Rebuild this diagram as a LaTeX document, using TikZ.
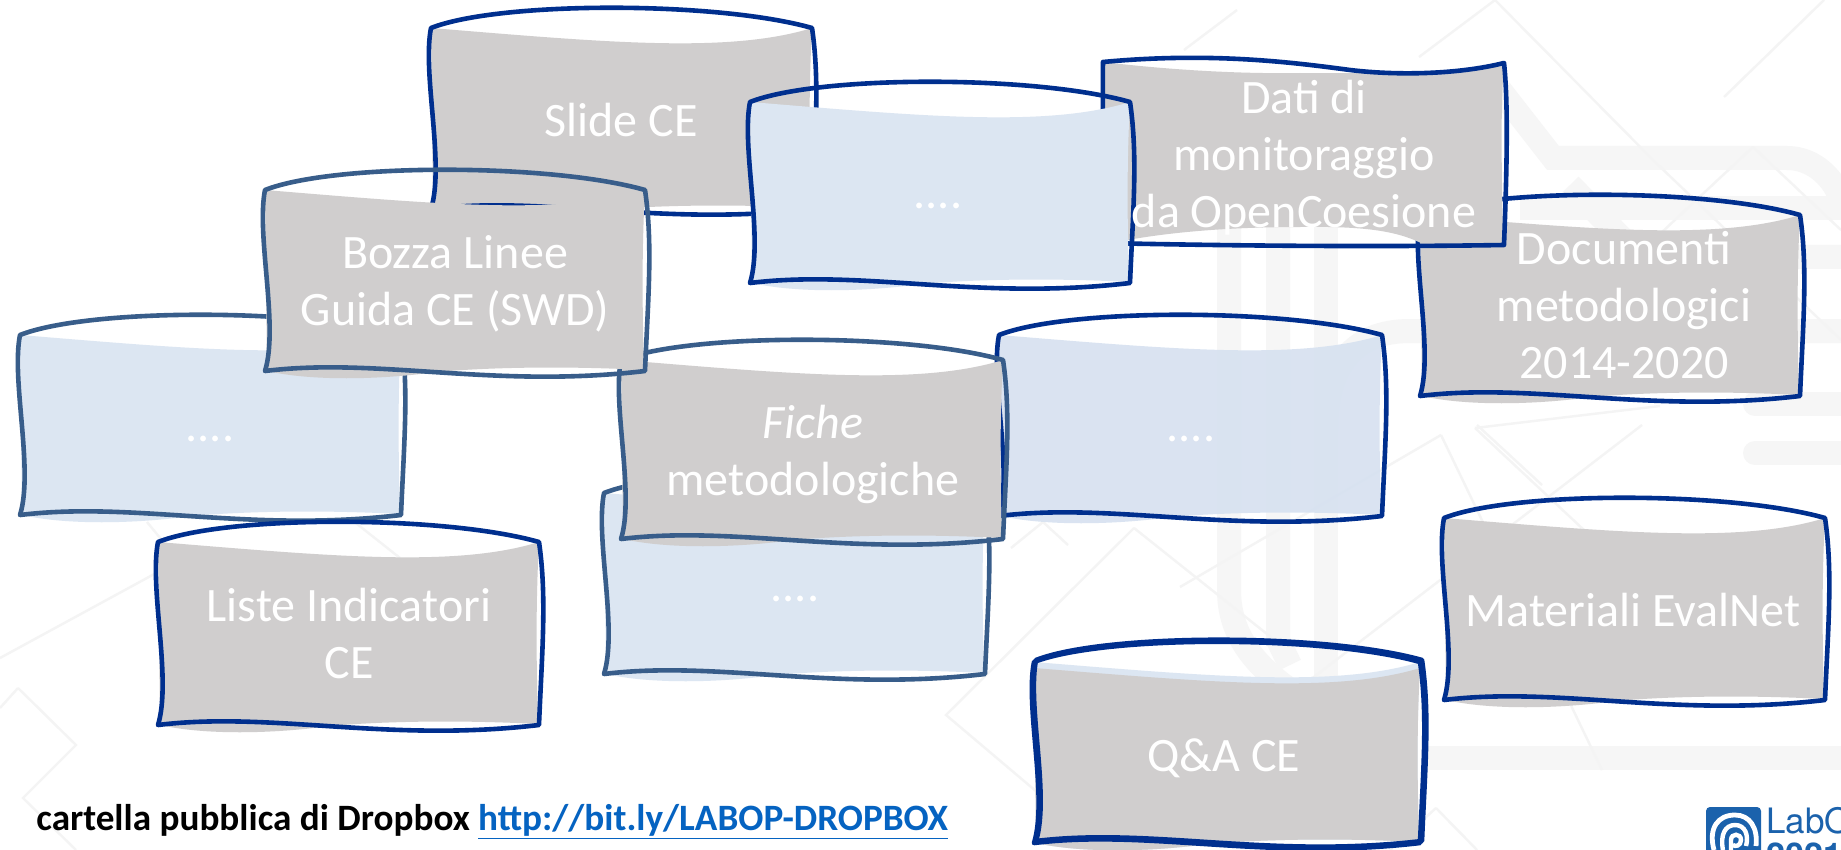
\documentclass[tikz,border=0pt]{standalone}
\usepackage{fontspec}
\setmainfont{Carlito}
\newfontfamily\logofont{TeX Gyre Heros}
\definecolor{navyline}{HTML}{002F8E}
\definecolor{steelline}{HTML}{385D8A}
\definecolor{grayfillc}{HTML}{D0CECE}
\definecolor{bluefillc}{HTML}{DCE6F2}
\definecolor{bluefilld}{HTML}{D6E1F0}
\definecolor{wmband}{HTML}{F6F6F6}
\definecolor{wmline}{HTML}{F4F4F4}
\definecolor{linkblue}{HTML}{0563C1}
\definecolor{logoblue}{HTML}{1B62AC}
\tikzset{
  grayfill/.style={fill=grayfillc},
  bluefill/.style={fill=bluefillc},
  bluefillt/.style={fill=bluefilld,fill opacity=.9},
  navyedge/.style={draw=navyline,line width=2.3pt,line join=round},
  steeledge/.style={draw=steelline,line width=2.3pt,line join=round},
  label/.style={text=white,inner sep=0pt,align=center,font=\fontsize{24}{28.5}\selectfont},
  band/.style={draw=wmband,line width=12pt},
  wm/.style={draw=wmline,line width=1.2pt},
}
\newcommand{\cylfillpath}[3]{% style, w, h
  \def\w{#2}\def\h{#3}
  \path[#1] (0,0) .. controls (0.45*\w,14) and (0.78*\w,26) .. (\w,0)
    .. controls (\w-3,0.3*\h) and (\w-3,0.6*\h) .. (\w-1,\h-1)
    .. controls (0.8*\w,\h-5) and (0.6*\w,\h-4) .. (0.45*\w,\h+1)
    .. controls (0.3*\w,\h+9) and (0.12*\w,\h+10) .. (2,\h) -- cycle;}
\newcommand{\cyledge}[3]{% style, w, h
  \def\w{#2}\def\h{#3}
  \path[#1] (0,0) .. controls (0.18*\w,-27) and (0.75*\w,-27) .. (\w,0)
    .. controls (\w+8,0.3*\h) and (\w+3,0.6*\h) .. (\w,\h)
    .. controls (0.6*\w,\h+18) and (0.3*\w,\h-14) .. (0,\h)
    .. controls (14,0.75*\h) and (-9,0.25*\h) .. cycle;}
\newcommand{\cylbox}[6]{% x, y, w, h, fill style, edge style
  \begin{scope}[shift={(#1,#2)}]
    \cylfillpath{#5}{#3}{#4}
    \cyledge{#6}{#3}{#4}
  \end{scope}}
\begin{document}
\begin{tikzpicture}[x=0.5pt,y=-0.5pt]
\useasboundingbox (0,0) rectangle (1841,850);
\clip (0,0) rectangle (1841,850);
\fill[white] (0,0) rectangle (1841,850);
% watermark bands
\draw[band] (1229,200) -- (1229,590) .. controls (1229,635) and (1255,665) .. (1290,690);
\draw[band] (1278,200) -- (1278,640) -- (1290,665);
\draw[band] (1326,200) -- (1326,680);
\draw[band] (1500,90) -- (1553,158) -- (1787,158) .. controls (1815,158) and (1835,180) .. (1841,200);
\draw[band] (1520,208) -- (1841,208);
\draw[band] (1570,185) -- (1640,257) -- (1841,257);
\draw[band] (1841,331) -- (1410,331) .. controls (1350,331) and (1326,370) .. (1326,430);
\draw[band,line cap=round] (1755,404) -- (1860,404);
\draw[band,line cap=round] (1755,453) -- (1860,453);
\draw[band] (1425,758) -- (1841,758);
% watermark thin lines
\draw[wm] (1134,528) -- (946,715) -- (1037,792);
\draw[wm] (1134,528) -- (1272,638);
\draw[wm] (1043,522) -- (1011,548);
\draw[wm] (1043,522) -- (1068,545);
\draw[wm] (1441,435) -- (1602,770);
\draw[wm] (1441,435) -- (1180,587);
\draw[wm] (1475,428) -- (1660,406);
\draw[wm] (1475,428) -- (1600,545);
\draw[wm] (1642,425) -- (1284,700);
\draw[wm] (1477,425) -- (1542,485);
\draw[wm] (1436,808) -- (1477,850);
\draw[wm] (1436,808) -- (1390,850);
\draw[wm] (1237,10) -- (1184,50);
\draw[wm] (1495,0) -- (1653,160) -- (1841,340);
\draw[wm] (1495,0) -- (1419,57);
\draw[wm] (1824,0) -- (1724,97);
\draw[wm] (1753,147) -- (1600,290);
\draw[wm] (1753,147) -- (1841,230);
\draw[wm] (147,522) -- (170,550);
\draw[wm] (0,658) -- (158,572);
\draw[wm] (18,688) -- (76,745) -- (23,798) -- (76,850);
\draw[wm] (0,708) -- (18,688);
\draw[wm] (352,520) -- (400,558);
% boxes, back to front
\cylbox{431}{28}{381}{181}{grayfill}{navyedge}
\cylbox{20}{335}{381}{180}{bluefill}{steeledge}
\cylbox{999}{335}{383}{181}{bluefillt}{navyedge}
\cylbox{604}{493}{381}{181}{bluefill}{steeledge}
\cylbox{621}{360}{382}{179}{grayfill}{steeledge}
\cylbox{265}{190}{380}{181}{grayfill}{steeledge}
\cylbox{1420}{215}{380}{181}{grayfill}{navyedge}
% Dati di monitoraggio: the flipped shape
\path[grayfill] (1103,62) .. controls (1170,70) and (1240,74) .. (1300,73)
  .. controls (1370,74) and (1440,72) .. (1504,66)
  .. controls (1500,110) and (1502,180) .. (1503,245)
  -- (1425,245) .. controls (1400,232) and (1370,226) .. (1301,227)
  .. controls (1230,227) and (1160,232) .. (1103,245) -- cycle;
\path[navyedge] (1103,62) .. controls (1210,52) and (1290,62) .. (1350,70)
  .. controls (1400,76) and (1460,74) .. (1504,63)
  .. controls (1509,110) and (1506,190) .. (1504,245)
  .. controls (1380,247) and (1240,246) .. (1103,243)
  .. controls (1105,180) and (1102,110) .. cycle;
\cylbox{750}{102}{380}{181}{bluefill}{navyedge}
\cylbox{158}{542}{381}{183}{grayfill}{navyedge}
\cylbox{1444}{518}{381}{182}{grayfill}{navyedge}
% Q&A CE: blue wave under the grey fill, doubled edge
\begin{scope}[shift={(1034,662)}]
  \cylfillpath{bluefill}{386}{181}
\end{scope}
\begin{scope}[shift={(1034,668)}]
  \cylfillpath{grayfill}{386}{175}
\end{scope}
\begin{scope}[shift={(1034,662)}]
  \cyledge{navyedge}{386}{181}
\end{scope}
\begin{scope}[shift={(1036,660)}]
  \cyledge{navyedge}{386}{181}
\end{scope}
% labels
\node[label] (slide) at (621,125.5) {\strut Slide CE};
\node[label] (bozza) at (455,286) {\strut Bozza Linee\\\strut Guida CE (SWD)};
\node[label] (dotsa) at (210,430.5) {\strut ....};
\node[label] (dotsb) at (938,197.5) {\strut ....};
\node[label] (dotsc) at (795,590.5) {\strut ....};
\node[label] (dotsd) at (1191,430.5) {\strut ....};
\node[label] (fiche) at (813,456) {\strut\textit{Fiche}\\\strut metodologiche};
\node[label] (dati) at (1304,159.5) {\strut Dati di\\\strut monitoraggio\\\strut da OpenCoesione};
\node[label] (docu) at (1624,310.5) {\strut Documenti\\\strut metodologici\\\strut 2014-2020};
\node[label] (liste) at (349,639) {\strut Liste Indicatori\\\strut CE};
\node[label] (mat) at (1633,615.5) {\strut Materiali EvalNet};
\node[label] (qa) at (1224,760.5) {\strut Q\&A CE};
\node[anchor=base west,inner sep=0pt,font=\fontsize{18.6}{22}\selectfont\bfseries] (cartella) at (36,830)
  {cartella pubblica di Dropbox \textcolor{linkblue}{\underline{http://bit.ly/LABOP-DROPBOX}}};
% logo
\fill[logoblue,rounded corners=2pt] (1706,807) rectangle (1761,860);
\draw[white,line width=2.4pt] (1714,850) .. controls (1708,828) and (1718,815) .. (1735,815)
  .. controls (1750,815) and (1758,828) .. (1756,846);
\draw[white,line width=2.2pt] (1723,850) .. controls (1720,835) and (1725,825) .. (1735,825)
  .. controls (1745,825) and (1749,835) .. (1746,846);
\draw[white,line width=2.2pt] (1731,850) -- (1731,840) .. controls (1731,833) and (1741,833) .. (1741,840)
  .. controls (1741,846) and (1735,847) .. (1733,845);
\node[anchor=base west,inner sep=0pt,text=logoblue,font=\logofont\fontsize{17.5}{20}\selectfont] (lab) at (1766,833) {LabO};
\node[anchor=base west,inner sep=0pt,text=logoblue,font=\logofont\bfseries\fontsize{17}{20}\selectfont] (year) at (1766,867) {2021};
\end{tikzpicture}
\end{document}
